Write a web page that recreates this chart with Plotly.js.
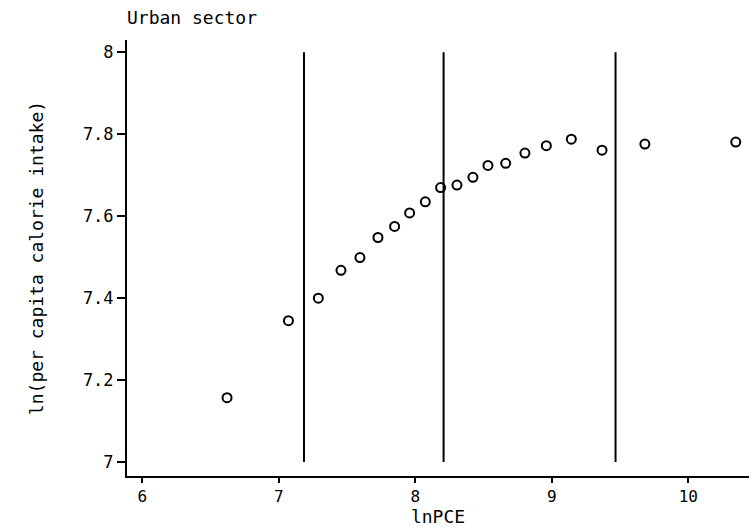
<!DOCTYPE html>
<html>
<head>
<meta charset="utf-8">
<script src="https://cdn.plot.ly/plotly-3.0.1.min.js"></script>
<style>html,body{margin:0;padding:0;background:#fff;}#chart{width:749px;height:527px;}</style>
</head>
<body>
<div id="chart"></div>
<script>
// Data
const lnPCE = [6.620, 7.070, 7.289, 7.455, 7.594, 7.726, 7.848, 7.958, 8.073, 8.185,
               8.305, 8.422, 8.532, 8.662, 8.803, 8.960, 9.143, 9.368, 9.682, 10.348];
const lnCalorie = [7.157, 7.345, 7.400, 7.468, 7.499, 7.548, 7.575, 7.608, 7.635, 7.670,
                   7.676, 7.695, 7.724, 7.729, 7.754, 7.772, 7.788, 7.761, 7.776, 7.781];
const breakpoints = [7.184, 8.207, 9.467];
const breakLow = 7;
const breakHigh = 8;
const xTicks = [6, 7, 8, 9, 10];
const yTicks = [7, 7.2, 7.4, 7.6, 7.8, 8];
const yTickText = ['7', '7.2', '7.4', '7.6', '7.8', '8'];

const tickFont = {family: 'DejaVu Sans Mono, monospace', size: 17, color: '#000'};
const xTickFont = {family: 'DejaVu Sans Mono, monospace', size: 16, color: '#000'};
const titleFont = {family: 'DejaVu Sans Mono, monospace', size: 18, color: '#000'};

const trace = {
  x: lnPCE, y: lnCalorie, type: 'scatter', mode: 'markers',
  marker: {symbol: 'circle-open', size: 9, color: '#000', line: {width: 2, color: '#000'}},
  showlegend: false, hoverinfo: 'x+y'
};

const shapes = breakpoints.map(b => ({
  type: 'line', xref: 'x', yref: 'y', x0: b, x1: b, y0: breakLow, y1: breakHigh,
  line: {color: '#000', width: 2}
}));

const layout = {
  width: 749, height: 527,
  margin: {l: 127, r: 0, t: 40, b: 51},
  paper_bgcolor: '#fff', plot_bgcolor: '#fff',
  font: tickFont,
  title: {text: 'Urban sector', font: titleFont, xref: 'paper', x: 0, xanchor: 'left',
          yref: 'container', y: 1 - 18/527, yanchor: 'middle'},
  xaxis: {
    range: [5.887, 10.445], tickvals: xTicks, ticks: 'outside', ticklen: 5, tickwidth: 2,
    tickcolor: '#000', showline: true, linecolor: '#000', linewidth: 2, showgrid: false,
    zeroline: false, tickfont: xTickFont,
    title: {text: 'lnPCE', font: titleFont, standoff: 0}
  },
  yaxis: {
    range: [6.966, 8.03], tickvals: yTicks, ticktext: yTickText, ticks: 'outside', ticklen: 8,
    tickwidth: 2, tickcolor: '#000', showline: true, linecolor: '#000', linewidth: 2,
    showgrid: false, zeroline: false, tickfont: tickFont,
    title: {text: 'ln(per capita calorie intake)', font: titleFont, standoff: 35}
  },
  shapes: shapes
};

Plotly.newPlot('chart', [trace], layout, {displayModeBar: false, staticPlot: true});
</script>
</body>
</html>
